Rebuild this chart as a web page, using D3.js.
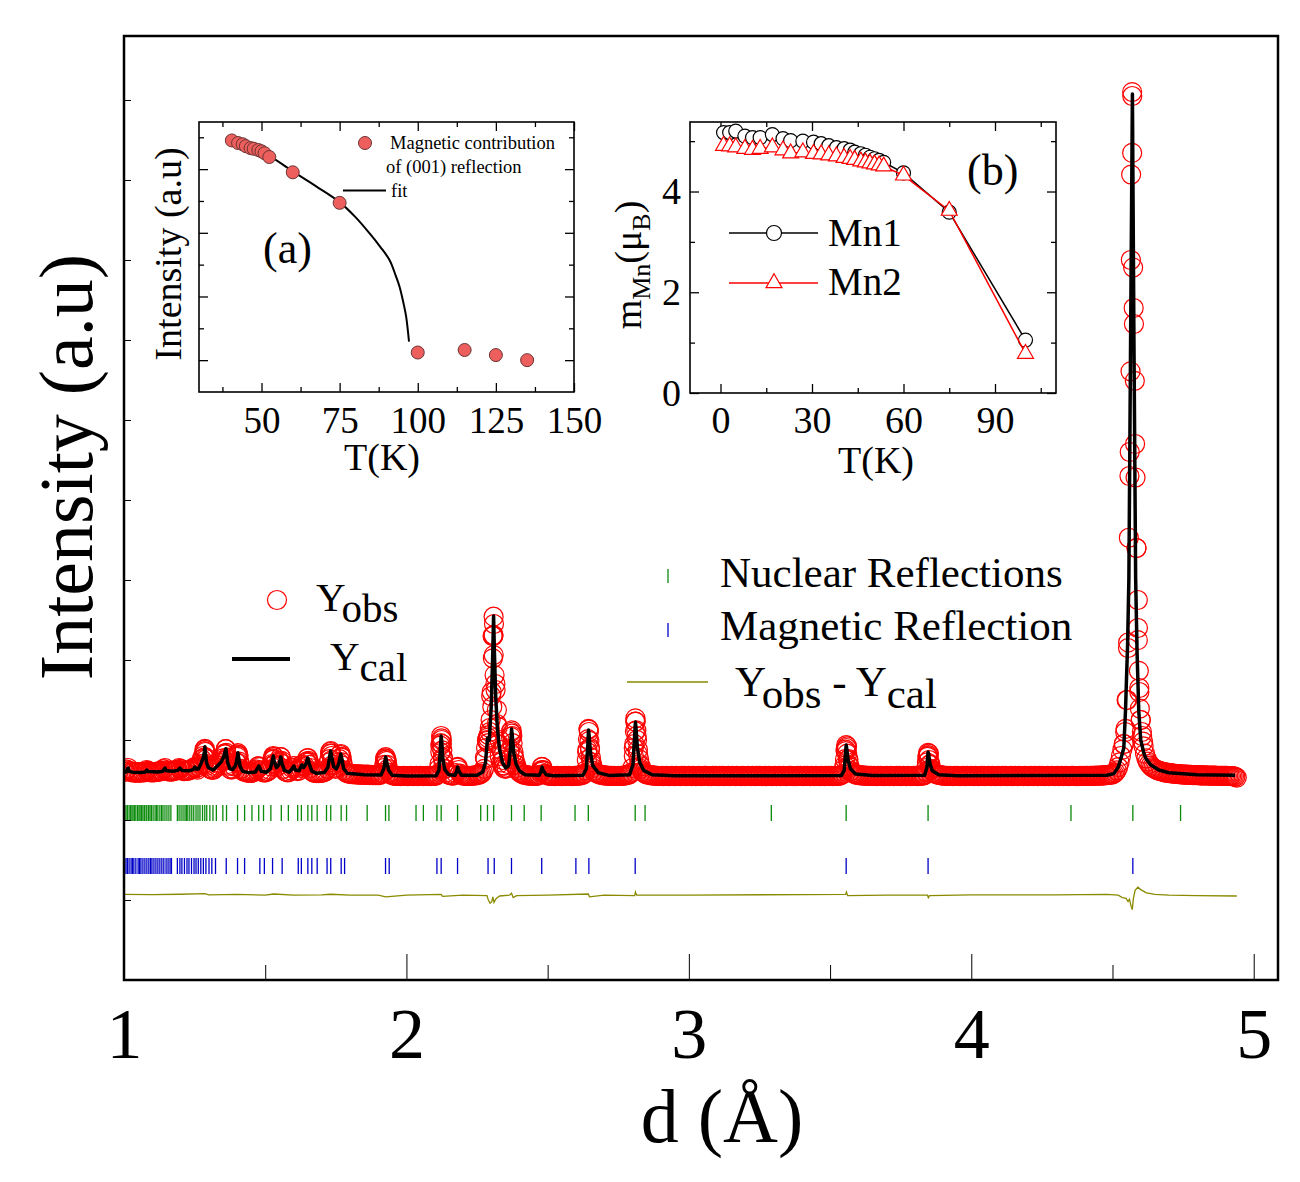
<!DOCTYPE html>
<html>
<head>
<meta charset="utf-8">
<script src="https://cdn.jsdelivr.net/npm/d3@7"></script>
<style>
    body { margin: 0; background: #fff; }
    svg text { font-family: 'Liberation Serif', 'Times New Roman', serif; white-space: pre; }
</style>
</head>
<body>
<div id="chart"></div>
<script>
// ---------- main pattern data ----------
// observed points on a regular d grid (start, step) plus extra points on the peaks
const obsStart = 1.0;
const obsStep = 0.005;
const obsIntensity = [
    1600,1605,1630,1650,1615,1600,1595,1600,1590,1595,1600,1590,1595,1600,1595,1605,1625,1615,1600,1595,
    1600,1595,1600,1605,1600,1605,1610,1615,1635,1650,1620,1610,1605,1610,1605,1610,1615,1620,1630,1650,
    1640,1620,1612,1610,1615,1615,1620,1625,1635,1650,1662,1645,1630,1660,1700,1760,1800,1880,1780,1680,
    1650,1640,1630,1625,1640,1660,1680,1700,1715,1740,1770,1830,1885,1780,1680,1640,1630,1640,1670,1730,
    1820,1810,1700,1640,1615,1605,1600,1595,1590,1595,1590,1595,1600,1610,1630,1670,1660,1620,1600,1595,
    1595,1600,1610,1630,1670,1750,1790,1700,1660,1680,1740,1785,1700,1640,1610,1600,1595,1600,1620,1650,
    1672,1650,1620,1610,1620,1650,1685,1660,1670,1720,1770,1720,1650,1610,1595,1590,1585,1590,1585,1590,
    1590,1595,1600,1610,1640,1720,1850,1800,1690,1650,1640,1660,1720,1815,1780,1680,1620,1595,1585,1580,
    1578,1575,1572,1575,1570,1572,1568,1570,1566,1568,1565,1567,1564,1566,1562,1564,1560,1562,1560,1562,
    1560,1562,1570,1590,1650,1770,1740,1640,1590,1568,1560,1555,1552,1550,1552,1550,1548,1550,1552,1550,
    1550,1548,1550,1552,1550,1548,1550,1551,1549,1550,1552,1550,1548,1550,1550,1552,1550,1549,1550,1552,
    1552,1555,1570,1640,1930,2000,1760,1640,1595,1575,1565,1560,1556,1555,1560,1585,1655,1625,1580,1562,
    1556,1552,1550,1550,1552,1550,1552,1555,1556,1558,1562,1565,1570,1580,1600,1640,1760,1990,1960,2100,
    2550,3300,3450,2700,2200,1950,1800,1720,1680,1650,1640,1650,1700,1850,2100,2050,1800,1700,1650,1620,
    1600,1585,1575,1568,1562,1560,1556,1555,1553,1552,1552,1550,1552,1555,1565,1600,1660,1620,1580,1565,
    1558,1555,1552,1550,1550,1548,1550,1552,1550,1550,1549,1550,1551,1550,1550,1552,1550,1549,1550,1552,
    1552,1553,1555,1556,1560,1565,1580,1620,1850,2130,1900,1720,1650,1615,1595,1582,1575,1568,1564,1560,
    1558,1556,1555,1553,1552,1552,1550,1551,1550,1550,1552,1550,1552,1553,1555,1556,1560,1565,1572,1590,
    1650,1900,2230,2050,1820,1700,1640,1610,1592,1580,1572,1566,1562,1560,1558,1555,1554,1552,1552,1550,
    1550,1551,1549,1550,1552,1550,1548,1550,1551,1550,1549,1552,1550,1550,1548,1551,1550,1552,1549,1550,
    1551,1550,1549,1552,1550,1548,1550,1551,1550,1549,1550,1552,1551,1550,1548,1550,1549,1551,1550,1552,
    1550,1548,1551,1550,1552,1549,1550,1550,1551,1548,1550,1552,1550,1549,1551,1550,1550,1548,1552,1550,
    1549,1550,1552,1550,1548,1551,1550,1549,1552,1550,1551,1550,1548,1550,1552,1549,1550,1551,1550,1548,
    1550,1552,1549,1550,1551,1548,1550,1552,1550,1549,1550,1551,1552,1550,1548,1550,1549,1552,1550,1551,
    1550,1549,1551,1550,1552,1550,1548,1551,1550,1549,1552,1550,1550,1548,1551,1550,1549,1552,1550,1551,
    1550,1551,1549,1550,1552,1550,1552,1555,1560,1575,1640,1880,1920,1760,1660,1615,1592,1578,1570,1565,
    1562,1560,1558,1556,1555,1554,1553,1552,1552,1551,1550,1552,1550,1549,1551,1550,1552,1550,1549,1550,
    1551,1550,1549,1552,1550,1548,1550,1551,1550,1552,1549,1550,1551,1550,1548,1552,1550,1549,1550,1551,
    1550,1552,1549,1550,1551,1553,1556,1562,1600,1800,1830,1700,1630,1600,1584,1575,1568,1563,1560,1557,
    1555,1553,1552,1551,1550,1552,1550,1549,1551,1550,1552,1550,1548,1550,1551,1550,1549,1552,1550,1550,
    1551,1550,1549,1552,1550,1548,1550,1551,1550,1552,1549,1550,1551,1550,1548,1552,1550,1549,1550,1551,
    1550,1548,1551,1550,1552,1549,1550,1550,1551,1548,1550,1552,1550,1549,1551,1550,1550,1548,1552,1550,
    1549,1550,1552,1550,1548,1551,1550,1549,1552,1550,1551,1550,1548,1550,1552,1549,1550,1551,1550,1548,
    1550,1552,1549,1550,1551,1548,1550,1552,1550,1549,1550,1551,1552,1550,1548,1550,1549,1552,1550,1551,
    1550,1551,1552,1550,1552,1551,1553,1552,1554,1553,1555,1556,1555,1557,1558,1560,1562,1564,1566,1568,
    1570,1580,1595,1620,1660,1720,1800,1880,1950,2100,2500,3150,5300,8000,10050,7400,5700,4400,3400,2650,
    2250,2050,1920,1830,1770,1730,1700,1680,1660,1648,1638,1630,1622,1615,1610,1605,1600,1596,1592,1590,
    1587,1585,1582,1580,1578,1576,1575,1573,1572,1570,1569,1568,1567,1566,1565,1564,1563,1562,1562,1561,
    1560,1560,1559,1558,1558,1557,1557,1556,1556,1555,1555,1555,1554,1554,1553,1553,1553,1552,1552,1552,
    1551,1551,1550,1550,1549,1548,1545,1540,1530
];

// extra observed points sitting on the flanks of the peaks [d, I]
const obsPeakPoints = [
    [1.281,1700],[1.283,1780],[1.285,1860],[1.2865,1890],[1.288,1850],[1.291,1760],[1.294,1700],
    [1.355,1740],[1.358,1820],[1.3607,1885],[1.362,1840],[1.365,1760],[1.368,1700],
    [1.398,1720],[1.401,1790],[1.4032,1835],[1.405,1800],[1.408,1730],
    [1.4775,1672],
    [1.524,1700],[1.527,1770],[1.5287,1800],[1.531,1760],[1.534,1700],
    [1.551,1720],[1.5553,1787],[1.558,1740],
    [1.6012,1675],[1.6295,1688],
    [1.647,1730],[1.6507,1775],[1.653,1740],[1.656,1690],
    [1.727,1760],[1.730,1830],[1.7321,1862],[1.734,1830],[1.737,1750],
    [1.763,1760],[1.7675,1825],[1.770,1790],[1.773,1720],
    [1.922,1690],[1.9245,1750],[1.9266,1787],[1.929,1760],[1.932,1690],
    [2.1175,1700],[2.120,1850],[2.1215,1960],[2.1229,2050],[2.124,2020],[2.1255,1950],[2.127,1870],[2.129,1780],[2.132,1700],[2.136,1640],
    [2.1813,1665],
    [2.278,1780],[2.282,1900],[2.286,2000],[2.288,2030],[2.2909,2062],[2.295,2150],[2.298,2250],
    [2.302,2600],[2.304,2416],[2.3061,3021],[2.3075,3300],[2.3086,3541],[2.3086,3312],[2.309,3062],[2.3121,2812],
    [2.3157,2625],[2.3203,2375],[2.3238,2166],[2.3298,2000],[2.3358,1875],[2.3415,1750],[2.347,1680],
    [2.364,1760],[2.367,1880],[2.370,2040],[2.3723,2120],[2.3735,2080],[2.376,1960],[2.379,1850],[2.383,1760],[2.388,1690],
    [2.4775,1620],[2.4801,1665],[2.483,1625],
    [2.639,1750],[2.641,1880],[2.643,2010],[2.6446,2140],[2.646,2100],[2.648,1990],[2.650,1880],[2.653,1780],[2.657,1690],
    [2.805,1800],[2.807,1950],[2.809,2110],[2.8108,2270],[2.812,2230],[2.814,2120],[2.8165,2000],[2.8195,1880],[2.824,1760],[2.830,1670],
    [3.551,1680],[3.553,1760],[3.555,1860],[3.557,1935],[3.5585,1900],[3.5605,1830],[3.563,1750],[3.567,1680],
    [3.841,1650],[3.843,1720],[3.845,1790],[3.847,1840],[3.8485,1810],[3.8505,1750],[3.853,1690],[3.857,1640],
    [4.5402,1950],[4.5462,2139],[4.552,2500],[4.5555,3219],[4.5579,4528],[4.561,5600],[4.5639,6609],[4.566,9068],
    [4.5696,9339],[4.5696,10099],[4.5731,7906],[4.576,7200],[4.5791,6490],[4.5816,5281],[4.5851,4398],[4.5897,3750],
    [4.5897,3248],[4.5933,2865],[4.595,2600],[4.5968,2393],[4.600,2250],[4.604,2100],[4.608,1980]
];

// calculated profile vertices [d, I]
const calcPoints = [
    [1.000,1600],[1.008,1600],[1.012,1640],[1.015,1650],[1.018,1610],[1.030,1598],[1.060,1595],[1.076,1600],[1.081,1625],[1.086,1605],
    [1.120,1600],[1.138,1610],[1.145,1650],[1.150,1615],[1.175,1610],[1.190,1620],[1.198,1650],[1.205,1620],[1.230,1615],[1.245,1630],
    [1.251,1662],[1.257,1635],[1.264,1640],[1.272,1700],[1.280,1770],[1.2845,1850],[1.2865,1915],[1.2885,1830],[1.292,1720],[1.298,1660],
    [1.305,1645],[1.315,1625],[1.325,1655],[1.335,1690],[1.345,1730],[1.353,1790],[1.3585,1860],[1.3607,1890],[1.3625,1840],[1.367,1720],
    [1.375,1640],[1.385,1630],[1.395,1680],[1.401,1780],[1.4032,1840],[1.4055,1790],[1.411,1670],[1.420,1610],[1.440,1592],[1.465,1600],
    [1.4775,1675],[1.486,1610],[1.505,1598],[1.518,1640],[1.5265,1760],[1.5287,1800],[1.532,1730],[1.540,1655],[1.548,1690],[1.5553,1787],
    [1.559,1710],[1.568,1620],[1.585,1598],[1.595,1640],[1.6012,1675],[1.607,1625],[1.620,1615],[1.6295,1688],[1.636,1655],[1.644,1700],
    [1.6507,1775],[1.656,1700],[1.665,1610],[1.680,1585],[1.710,1595],[1.722,1660],[1.7295,1820],[1.7321,1862],[1.735,1800],[1.742,1670],
    [1.752,1640],[1.760,1700],[1.7675,1825],[1.771,1770],[1.778,1640],[1.790,1585],[1.850,1566],[1.910,1562],[1.920,1640],[1.9245,1750],
    [1.9266,1787],[1.930,1730],[1.937,1620],[1.950,1560],[2.000,1550],[2.105,1552],[2.115,1620],[2.1205,1900],[2.1229,2050],[2.125,1980],
    [2.129,1760],[2.136,1630],[2.150,1565],[2.172,1560],[2.178,1610],[2.1813,1662],[2.185,1615],[2.195,1560],[2.250,1560],[2.270,1600],
    [2.280,1720],[2.2855,1950],[2.2874,2025],[2.2895,1990],[2.2935,2000],[2.300,2400],[2.305,3000],[2.3086,3550],[2.3115,3100],[2.316,2550],
    [2.322,2150],[2.330,1880],[2.340,1720],[2.352,1650],[2.362,1680],[2.368,1880],[2.3723,2137],[2.375,2050],[2.380,1840],[2.388,1700],
    [2.400,1615],[2.420,1565],[2.470,1558],[2.476,1600],[2.4801,1662],[2.484,1620],[2.495,1565],[2.520,1552],[2.625,1560],[2.637,1640],
    [2.6425,1950],[2.6446,2125],[2.647,2050],[2.652,1830],[2.660,1680],[2.680,1590],[2.720,1555],[2.790,1565],[2.802,1690],[2.8085,2080],
    [2.8108,2225],[2.813,2140],[2.818,1900],[2.826,1720],[2.840,1620],[2.870,1565],[2.950,1552],[3.540,1555],[3.550,1620],[3.5545,1820],
    [3.557,1937],[3.559,1890],[3.564,1750],[3.572,1640],[3.590,1575],[3.650,1555],[3.835,1560],[3.843,1660],[3.847,1850],[3.849,1820],
    [3.854,1700],[3.862,1615],[3.885,1565],[3.950,1553],[4.480,1560],[4.505,1580],[4.520,1660],[4.530,1770],[4.540,1900],[4.546,2362],
    [4.5535,3200],[4.558,4012],[4.564,6962],[4.5705,10075],[4.576,6962],[4.582,4012],[4.587,3100],[4.593,2362],[4.600,2000],[4.610,1850],
    [4.617,1775],[4.635,1690],[4.664,1625],[4.700,1590],[4.800,1565],[4.934,1560]
];

// difference curve vertices [d, I]
const diffPoints = [
    [1.000,70],[1.100,68],[1.200,72],[1.286,80],[1.300,65],[1.400,70],[1.500,62],[1.530,75],[1.600,60],[1.700,64],
    [1.732,72],[1.800,62],[1.900,60],[1.927,40],[2.000,62],[2.123,70],[2.128,45],[2.200,60],[2.285,55],[2.290,0],
    [2.296,-40],[2.302,-20],[2.306,40],[2.310,-30],[2.318,20],[2.330,50],[2.365,60],[2.372,85],[2.378,30],[2.390,55],
    [2.500,62],[2.644,75],[2.648,40],[2.700,62],[2.808,55],[2.811,100],[2.815,60],[3.000,62],[3.555,70],[3.558,100],
    [3.562,55],[3.700,60],[3.845,60],[3.848,30],[3.852,55],[4.000,65],[4.300,65],[4.480,70],[4.520,60],[4.535,30],
    [4.548,20],[4.555,-20],[4.560,10],[4.566,-80],[4.570,-120],[4.574,20],[4.580,120],[4.590,160],[4.600,130],[4.620,90],
    [4.650,70],[4.700,60],[4.800,55],[4.940,50]
];

// Bragg reflection positions (d, Angstrom)
const nuclearD = [
    1.002,1.007,1.012,1.018,1.023,1.028,1.032,1.037,1.042,1.048,1.053,1.057,1.062,1.067,1.072,1.078,1.081,1.087,1.092,1.097,
    1.103,1.110,1.115,1.120,1.127,1.133,1.138,1.145,1.152,1.159,1.166,1.189,1.195,1.202,1.209,1.216,1.221,1.226,1.233,1.240,
    1.247,1.255,1.262,1.269,1.278,1.286,1.293,1.304,1.315,1.327,1.350,1.363,1.402,1.427,1.453,1.477,1.494,1.520,1.557,1.582,
    1.615,1.628,1.651,1.665,1.684,1.717,1.732,1.769,1.788,1.861,1.926,1.938,2.034,2.060,2.108,2.123,2.181,2.263,2.287,2.309,
    2.372,2.417,2.477,2.597,2.644,2.810,2.845,3.292,3.557,3.847,4.353,4.572,4.741
];
const magneticD = [
    1.007,1.012,1.018,1.025,1.030,1.035,1.042,1.050,1.055,1.060,1.067,1.074,1.081,1.088,1.094,1.099,1.106,1.113,1.120,1.127,
    1.134,1.141,1.149,1.156,1.163,1.168,1.189,1.198,1.205,1.214,1.223,1.230,1.239,1.248,1.255,1.263,1.272,1.281,1.290,1.301,
    1.311,1.324,1.362,1.402,1.427,1.481,1.497,1.526,1.560,1.617,1.628,1.651,1.665,1.684,1.719,1.732,1.769,1.781,1.926,1.939,
    2.108,2.123,2.181,2.289,2.311,2.372,2.479,2.600,2.646,2.810,3.557,3.847,4.572
];

const mainXTicks = [1, 2, 3, 4, 5];
const mainXMinor = [1.5, 2.5, 3.5, 4.5];

// ---------- inset (a) data ----------
const aTemp = [40.5, 42.5, 44, 45, 46.5, 47.5, 49, 50, 51, 52.5, 60, 75, 100, 115, 125, 135];
const aIntensity = [345, 341, 339, 336, 333, 332, 330, 328, 325, 319, 295, 247, 12, 16, 8, 0];
const fitTemp = [40.5, 45, 52.7, 60.1, 67.5, 74.8, 80, 84.6, 88, 91, 93, 94.2, 95.5, 96.3, 97.2];
const fitIntensity = [347, 336, 320, 296, 273, 249, 225, 199, 178, 157, 132, 115, 88, 68, 29];
const aXTicks = [50, 75, 100, 125, 150];

// ---------- inset (b) data ----------
const bTemp = [1, 3, 5, 8, 10.5, 13, 17, 20.5, 23, 27, 30.5, 33, 35.5, 38, 40.5, 42.5, 44, 46, 47.5, 49, 50.5, 52, 53.5, 60, 75, 100];
const mn1Moment = [5.17, 5.17, 5.20, 5.10, 5.07, 5.07, 5.13, 5.05, 5.01, 5.00, 4.98, 4.95, 4.91, 4.87, 4.85, 4.82, 4.78, 4.75, 4.72, 4.68, 4.65, 4.62, 4.58, 4.37, 3.59, 1.05];
const mn2Moment = [4.91, 4.90, 4.88, 4.85, 4.83, 4.85, 4.88, 4.82, 4.76, 4.78, 4.75, 4.74, 4.72, 4.70, 4.67, 4.65, 4.63, 4.60, 4.58, 4.56, 4.54, 4.52, 4.50, 4.32, 3.62, 0.78];
const bXTicks = [0, 30, 60, 90];
const bYTicks = [0, 2, 4];

// ---------- svg ----------
const svg = d3.select('#chart')
    .append('svg')
    .attr('width', 1300)
    .attr('height', 1182);

const frame = { left: 124, right: 1278, top: 36, bottom: 980 };
const FONT = "'Liberation Serif', 'Times New Roman', serif";

// text with lowered parts, parts = [[text, 'sub'?], ...]
function AddSubText(parent, px, py, size, parts, subSize) {
    const t = parent.append('text').attr('x', px).attr('y', py).attr('font-size', size);
    let low = false;
    const shift = size * 0.27;
    parts.forEach(p => {
        const s = t.append('tspan').text(p[0]);
        const want = p[1] === 'sub';
        if (want !== low) {
            s.attr('dy', want ? shift : -shift);
            low = want;
        }
        if (want && subSize) s.attr('font-size', subSize);
    });
    return t;
}

function CleanAxis(g) {
    g.select('.domain').remove();
    g.attr('font-family', FONT);
    g.selectAll('line').attr('stroke', '#000');
}

function DrawMain() {
    const x = d3.scaleLinear().domain([1, 5.086]).range([frame.left, frame.right]);
    const y = d3.scaleLinear().domain([-1000, 10800]).range([frame.bottom, frame.top]);

    svg.append('clipPath').attr('id', 'clipMain')
        .append('rect')
        .attr('x', frame.left).attr('y', frame.top)
        .attr('width', frame.right - frame.left).attr('height', frame.bottom - frame.top);

    // observed data
    const obs = obsIntensity.map((v, i) => [obsStart + i * obsStep, v]).concat(obsPeakPoints);
    svg.append('g')
        .attr('clip-path', 'url(#clipMain)')
        .selectAll('circle')
        .data(obs)
        .join('circle')
        .attr('cx', d => x(d[0]))
        .attr('cy', d => y(d[1]))
        .attr('r', 9.5)
        .attr('fill', 'none')
        .attr('stroke', '#ff0000')
        .attr('stroke-width', 1.2);

    // calculated profile
    svg.append('path')
        .datum(calcPoints)
        .attr('fill', 'none')
        .attr('stroke', '#000')
        .attr('stroke-width', 3.5)
        .attr('stroke-linejoin', 'round')
        .attr('d', d3.line().x(d => x(d[0])).y(d => y(d[1])));

    // reflection markers
    svg.append('g').selectAll('line')
        .data(nuclearD)
        .join('line')
        .attr('x1', d => x(d)).attr('x2', d => x(d))
        .attr('y1', 805).attr('y2', 821)
        .attr('stroke', '#0a8a0a').attr('stroke-width', 1.3);
    svg.append('g').selectAll('line')
        .data(magneticD)
        .join('line')
        .attr('x1', d => x(d)).attr('x2', d => x(d))
        .attr('y1', 858).attr('y2', 874)
        .attr('stroke', '#0000c8').attr('stroke-width', 1.3);

    // difference curve, drawn with its own offset
    const yDiff = d3.scaleLinear().domain([0, 1000]).range([900, 820]);
    svg.append('path')
        .datum(diffPoints)
        .attr('fill', 'none')
        .attr('stroke', '#8a8a00')
        .attr('stroke-width', 1.3)
        .attr('d', d3.line().x(d => x(d[0])).y(d => yDiff(d[1])));

    // axes
    const xMajor = svg.append('g')
        .attr('transform', 'translate(0,' + frame.bottom + ')')
        .call(d3.axisBottom(x).tickValues(mainXTicks).tickSize(-26).tickPadding(27).tickFormat(d3.format('d')));
    CleanAxis(xMajor);
    xMajor.selectAll('text').attr('font-size', 72).attr('fill', '#000');
    const xMinor = svg.append('g')
        .attr('transform', 'translate(0,' + frame.bottom + ')')
        .call(d3.axisBottom(x).tickValues(mainXMinor).tickSize(-15).tickFormat(''));
    CleanAxis(xMinor);
    const yTicks = svg.append('g')
        .attr('transform', 'translate(' + frame.left + ',0)')
        .call(d3.axisLeft(y).tickValues(d3.range(0, 10001, 1000)).tickSize(-7).tickFormat(''));
    CleanAxis(yTicks);

    svg.append('rect')
        .attr('x', frame.left).attr('y', frame.top)
        .attr('width', frame.right - frame.left).attr('height', frame.bottom - frame.top)
        .attr('fill', 'none').attr('stroke', '#000').attr('stroke-width', 2.5);

    // axis titles
    svg.append('text')
        .attr('x', 722).attr('y', 1142)
        .attr('text-anchor', 'middle')
        .attr('font-size', 76)
        .text('d (Å)');
    svg.append('text')
        .attr('transform', 'translate(92,467) rotate(-90)')
        .attr('text-anchor', 'middle')
        .attr('font-size', 76)
        .text('Intensity (a.u)');

    // legend
    const lg = svg.append('g');
    lg.append('circle').attr('cx', 277).attr('cy', 600).attr('r', 9.5)
        .attr('fill', 'none').attr('stroke', '#ff0000').attr('stroke-width', 1.2);
    AddSubText(lg, 316, 611, 41, [['Y'], ['obs', 'sub']]);
    lg.append('line').attr('x1', 232).attr('x2', 290).attr('y1', 659).attr('y2', 659)
        .attr('stroke', '#000').attr('stroke-width', 4);
    AddSubText(lg, 330, 670, 41, [['Y'], ['cal', 'sub']]);
    lg.append('line').attr('x1', 668).attr('x2', 668).attr('y1', 569).attr('y2', 583)
        .attr('stroke', '#0a8a0a').attr('stroke-width', 1.3);
    lg.append('text').attr('x', 720).attr('y', 587).attr('font-size', 43).text('Nuclear Reflections');
    lg.append('line').attr('x1', 668).attr('x2', 668).attr('y1', 623).attr('y2', 637)
        .attr('stroke', '#0000c8').attr('stroke-width', 1.3);
    lg.append('text').attr('x', 720).attr('y', 640).attr('font-size', 43).text('Magnetic Reflection');
    lg.append('line').attr('x1', 627).attr('x2', 708).attr('y1', 682).attr('y2', 682)
        .attr('stroke', '#8a8a00').attr('stroke-width', 1.3);
    AddSubText(lg, 735, 696, 43, [['Y'], ['obs', 'sub'], [' - Y'], ['cal', 'sub']]);
}

function InsetTicks(g, sx, sy, box, xMaj, xMin, yMaj, yMin, lenMaj, lenMin) {
    const pieces = [
        [d3.axisBottom(sx), xMaj, lenMaj, 'translate(0,' + box.bottom + ')'],
        [d3.axisBottom(sx), xMin, lenMin, 'translate(0,' + box.bottom + ')'],
        [d3.axisTop(sx), xMaj, lenMaj, 'translate(0,' + box.top + ')'],
        [d3.axisTop(sx), xMin, lenMin, 'translate(0,' + box.top + ')'],
        [d3.axisLeft(sy), yMaj, lenMaj, 'translate(' + box.left + ',0)'],
        [d3.axisLeft(sy), yMin, lenMin, 'translate(' + box.left + ',0)'],
        [d3.axisRight(sy), yMaj, lenMaj, 'translate(' + box.right + ',0)'],
        [d3.axisRight(sy), yMin, lenMin, 'translate(' + box.right + ',0)']
    ];
    pieces.forEach(p => {
        const a = g.append('g').attr('transform', p[3])
            .call(p[0].tickValues(p[1]).tickSize(-p[2]).tickFormat(''));
        CleanAxis(a);
        a.selectAll('line').attr('stroke-width', 1.3);
    });
}

function DrawInsetA() {
    const box = { left: 199, right: 574, top: 122, bottom: 392 };
    const x = d3.scaleLinear().domain([30, 150]).range([box.left, box.right]);
    const y = d3.scaleLinear().domain([-50, 374]).range([box.bottom, box.top]);
    const g = svg.append('g');

    g.append('rect').attr('x', box.left).attr('y', box.top)
        .attr('width', box.right - box.left).attr('height', box.bottom - box.top)
        .attr('fill', '#fff');

    InsetTicks(g, x, y, box,
        [50, 75, 100, 125, 150], [37.5, 62.5, 87.5, 112.5, 137.5],
        [0, 100, 200, 300], [50, 150, 250, 350], 9, 5);

    // tick labels
    const lab = g.append('g').attr('transform', 'translate(0,' + box.bottom + ')')
        .call(d3.axisBottom(x).tickValues(aXTicks).tickSize(0).tickPadding(15).tickFormat(d3.format('d')));
    CleanAxis(lab);
    lab.selectAll('text').attr('font-size', 37).attr('fill', '#000');

    // fit curve
    const fit = fitTemp.map((t, i) => [t, fitIntensity[i]]);
    g.append('path').datum(fit)
        .attr('fill', 'none').attr('stroke', '#000').attr('stroke-width', 2)
        .attr('d', d3.line().curve(d3.curveCatmullRom).x(d => x(d[0])).y(d => y(d[1])));

    // points
    const pts = aTemp.map((t, i) => [t, aIntensity[i]]);
    g.append('g').selectAll('circle').data(pts).join('circle')
        .attr('cx', d => x(d[0])).attr('cy', d => y(d[1])).attr('r', 6.5)
        .attr('fill', '#ec5f5c').attr('stroke', '#6a3434').attr('stroke-width', 1);

    g.append('rect').attr('x', box.left).attr('y', box.top)
        .attr('width', box.right - box.left).attr('height', box.bottom - box.top)
        .attr('fill', 'none').attr('stroke', '#000').attr('stroke-width', 1.6);

    // legend
    g.append('circle').attr('cx', 365).attr('cy', 143).attr('r', 6.5)
        .attr('fill', '#ec5f5c').attr('stroke', '#6a3434').attr('stroke-width', 1);
    g.append('text').attr('x', 390).attr('y', 149).attr('font-size', 18.5).text('Magnetic contribution');
    g.append('text').attr('x', 386).attr('y', 173).attr('font-size', 18.5).text('of (001) reflection');
    g.append('line').attr('x1', 343).attr('x2', 386).attr('y1', 190.5).attr('y2', 190.5)
        .attr('stroke', '#000').attr('stroke-width', 2);
    g.append('text').attr('x', 391).attr('y', 197).attr('font-size', 18.5).text('fit');

    g.append('text').attr('x', 263).attr('y', 263).attr('font-size', 44).text('(a)');
    g.append('text').attr('x', 382).attr('y', 470).attr('text-anchor', 'middle').attr('font-size', 38).text('T(K)');
    g.append('text')
        .attr('transform', 'translate(181,254) rotate(-90)')
        .attr('text-anchor', 'middle').attr('font-size', 38)
        .text('Intensity (a.u)');
}

function DrawInsetB() {
    const box = { left: 690, right: 1056, top: 122, bottom: 393 };
    const x = d3.scaleLinear().domain([-10, 110]).range([box.left, box.right]);
    const y = d3.scaleLinear().domain([0, 5.38]).range([box.bottom, box.top]);
    const g = svg.append('g');

    g.append('rect').attr('x', box.left).attr('y', box.top)
        .attr('width', box.right - box.left).attr('height', box.bottom - box.top)
        .attr('fill', '#fff');

    InsetTicks(g, x, y, box,
        [0, 30, 60, 90], [15, 45, 75, 105],
        [0, 2, 4], [1, 3, 5], 9, 5);

    const labX = g.append('g').attr('transform', 'translate(0,' + box.bottom + ')')
        .call(d3.axisBottom(x).tickValues(bXTicks).tickSize(0).tickPadding(13).tickFormat(d3.format('d')));
    CleanAxis(labX);
    labX.selectAll('text').attr('font-size', 38).attr('fill', '#000');
    const labY = g.append('g').attr('transform', 'translate(' + box.left + ',0)')
        .call(d3.axisLeft(y).tickValues(bYTicks).tickSize(0).tickPadding(9).tickFormat(d3.format('d')));
    CleanAxis(labY);
    labY.selectAll('text').attr('font-size', 38).attr('fill', '#000');

    const line = d3.line().x(d => x(d[0])).y(d => y(d[1]));
    const s1 = bTemp.map((t, i) => [t, mn1Moment[i]]);
    const s2 = bTemp.map((t, i) => [t, mn2Moment[i]]);
    const tri = d3.symbol().type(d3.symbolTriangle).size(110);

    g.append('path').datum(s1).attr('fill', 'none').attr('stroke', '#000').attr('stroke-width', 1.5).attr('d', line);
    g.append('g').selectAll('circle').data(s1).join('circle')
        .attr('cx', d => x(d[0])).attr('cy', d => y(d[1])).attr('r', 7)
        .attr('fill', '#fff').attr('stroke', '#000').attr('stroke-width', 1.2);
    g.append('path').datum(s2).attr('fill', 'none').attr('stroke', '#ff0000').attr('stroke-width', 1.5).attr('d', line);
    g.append('g').selectAll('path').data(s2).join('path')
        .attr('transform', d => 'translate(' + x(d[0]) + ',' + y(d[1]) + ')')
        .attr('d', tri)
        .attr('fill', '#fff').attr('stroke', '#ff0000').attr('stroke-width', 1.2);

    g.append('rect').attr('x', box.left).attr('y', box.top)
        .attr('width', box.right - box.left).attr('height', box.bottom - box.top)
        .attr('fill', 'none').attr('stroke', '#000').attr('stroke-width', 1.6);

    // legend
    g.append('line').attr('x1', 729).attr('x2', 818).attr('y1', 233).attr('y2', 233)
        .attr('stroke', '#000').attr('stroke-width', 1.5);
    g.append('circle').attr('cx', 774).attr('cy', 233).attr('r', 7.5)
        .attr('fill', '#fff').attr('stroke', '#000').attr('stroke-width', 1.2);
    g.append('text').attr('x', 828).attr('y', 246).attr('font-size', 39).text('Mn1');
    g.append('line').attr('x1', 729).attr('x2', 818).attr('y1', 283).attr('y2', 283)
        .attr('stroke', '#ff0000').attr('stroke-width', 1.5);
    g.append('path').attr('transform', 'translate(774,283)').attr('d', tri)
        .attr('fill', '#fff').attr('stroke', '#ff0000').attr('stroke-width', 1.2);
    g.append('text').attr('x', 828).attr('y', 295).attr('font-size', 39).text('Mn2');

    g.append('text').attr('x', 967).attr('y', 185).attr('font-size', 44).text('(b)');
    g.append('text').attr('x', 876).attr('y', 473).attr('text-anchor', 'middle').attr('font-size', 38).text('T(K)');

    const yt = g.append('text')
        .attr('transform', 'translate(641,265) rotate(-90)')
        .attr('text-anchor', 'middle').attr('font-size', 38);
    yt.append('tspan').text('m');
    yt.append('tspan').attr('font-size', 26).attr('dy', 9).text('Mn');
    yt.append('tspan').attr('dy', -9).text('(μ');
    yt.append('tspan').attr('font-size', 26).attr('dy', 9).text('B');
    yt.append('tspan').attr('dy', -9).text(')');
}

DrawMain();
DrawInsetA();
DrawInsetB();
</script>
</body>
</html>
